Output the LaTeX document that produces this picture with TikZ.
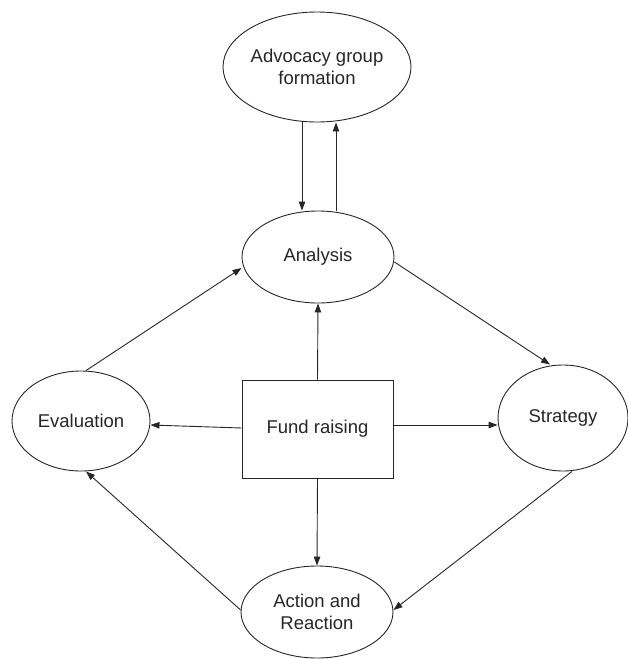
\documentclass[tikz,border=0pt]{standalone}
\usepackage{fontspec}
\setmainfont{Liberation Sans}
\usetikzlibrary{shapes.geometric,arrows.meta}
\begin{document}
\begin{tikzpicture}[x=1pt,y=-1pt,
  every node/.style={font=\fontsize{18.5}{21.5}\selectfont,align=center,inner sep=0pt,text=black!85},
  oval/.style={draw=black!85,ellipse,line width=0.9pt},
  boxnode/.style={draw=black!85,rectangle,line width=0.9pt},
  arr/.style={draw=black!85,line width=0.9pt,-{Triangle[length=9pt,width=6.5pt]}}]
\useasboundingbox (0,0) rectangle (627,659);
\node[oval,minimum width=188pt,minimum height=110pt] (adv) at (317,67) {Advocacy group\\formation};
\node[oval,minimum width=152pt,minimum height=92pt] (ana) at (318,257) {Analysis};
\node[oval,minimum width=138pt,minimum height=100pt] (eva) at (81,421) {Evaluation};
\node[oval,minimum width=130pt,minimum height=106pt] (str) at (563,418) {Strategy};
\node[oval,minimum width=152pt,minimum height=92pt] (act) at (317,612) {Action and\\Reaction};
\node[boxnode,minimum width=151pt,minimum height=98pt] (fund) at (317.5,429) {Fund raising};
\draw[arr] ([xshift=-15pt]adv.south) -- ([xshift=-16pt]ana.north);
\draw[arr] ([xshift=18pt]ana.north) -- ([xshift=19pt]adv.south);
\draw[arr] (fund.north) -- (ana.south);
\draw[arr] ([yshift=1pt]fund.west) -- ([yshift=-4pt]eva.east);
\draw[arr] ([yshift=4pt]fund.east) -- ([yshift=-7pt]str.west);
\draw[arr] (fund.south) -- (act.north);
\draw[arr] ([yshift=-5pt]ana.east) -- ([xshift=-13pt]str.north);
\draw[arr] ([xshift=9pt]str.south) -- ([yshift=2pt]act.east);
\draw[arr] ([xshift=5pt]eva.north) -- ([yshift=-11pt]ana.west);
\draw[arr] ([yshift=2pt]act.west) -- ([xshift=5pt]eva.south);
\end{tikzpicture}
\end{document}
